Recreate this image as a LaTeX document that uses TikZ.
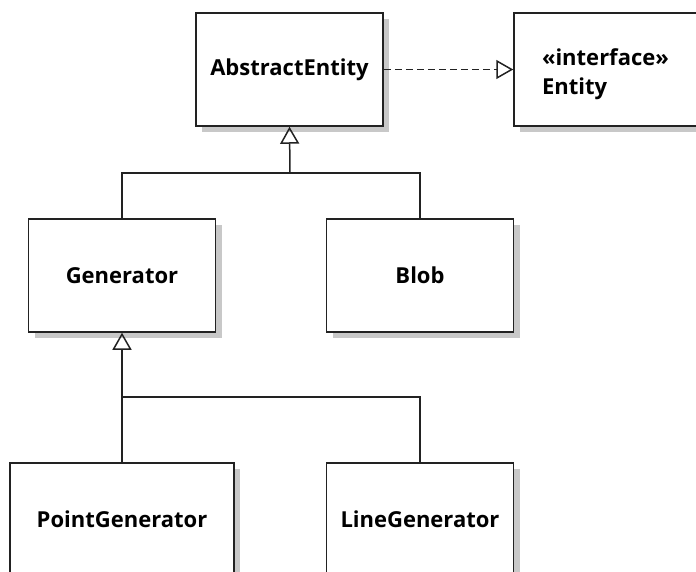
\documentclass[tikz,border=0pt]{standalone}
\usepackage{fontspec}
\setmainfont{Open Sans}
\usepackage{tikz}
\usetikzlibrary{arrows.meta,shadows}
\definecolor{umlline}{RGB}{34, 34, 34}
\definecolor{umlshadow}{RGB}{200, 200, 200}

\begin{document}
\begin{tikzpicture}[x=1pt, y=-1pt,
    umlclass/.style={draw=umlline, line width=1.5pt, fill=white, minimum width=187pt, minimum height=113pt,
        font=\fontsize{22}{27}\selectfont\bfseries,
        drop shadow={shadow xshift=6pt, shadow yshift=-6pt, fill=umlshadow, opacity=1}},
    inherit/.style={draw=umlline, line width=1.5pt, -{Triangle[open, length=17pt, width=19pt, line width=1.5pt]}},
    branch/.style={draw=umlline, line width=1.5pt},
    realize/.style={inherit, dash pattern=on 7pt off 4pt}]
    \useasboundingbox (0,0) rectangle (696,572);
                \node[umlclass] (abstract) at (289.5,69.5) {AbstractEntity};
                \node[umlclass, text width=131pt, inner xsep=28pt, text height=26pt, align=left] (entity) at (607.5,69.5) {«interface»\\[2pt]Entity};
                \node[umlclass] (generator) at (122,275.5) {Generator};
                \node[umlclass] (blob) at (420,275.5) {Blob};
                \node[umlclass, minimum width=224pt] (pointgen) at (122,519.5) {PointGenerator};
                \node[umlclass] (linegen) at (420,519.5) {LineGenerator};
                \coordinate (topjoin) at (290,173);
                \coordinate (lowjoin) at (122,397);
                
                \draw[realize] (abstract) -- (entity);
                \draw[inherit] (topjoin) -- (abstract.south);
                \draw[branch] (generator.north) |- (topjoin);
                \draw[branch] (blob.north) |- (topjoin);
                \draw[inherit] (lowjoin) -- (generator.south);
                \draw[branch] (pointgen.north) -- (lowjoin);
                \draw[branch] (linegen.north) |- (lowjoin);
            \end{tikzpicture}
\end{document}
